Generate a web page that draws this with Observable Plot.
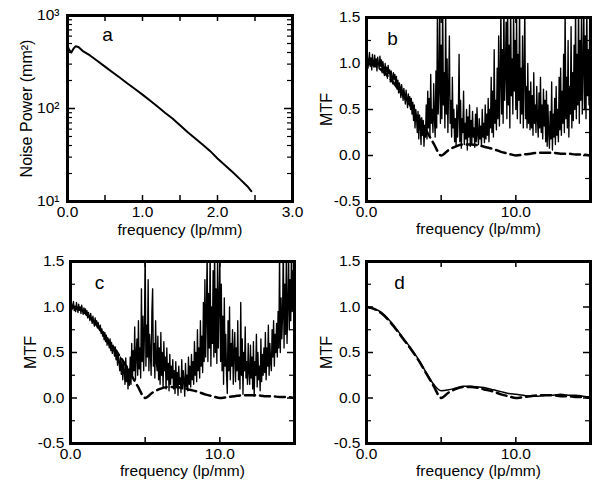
<!DOCTYPE html>
<html><head><meta charset="utf-8">
<script src="https://cdn.jsdelivr.net/npm/d3@7"></script>
<script src="https://cdn.jsdelivr.net/npm/@observablehq/plot@0.6"></script>
<style>
body{margin:0;background:#fff;width:592px;height:484px;overflow:hidden;font-family:"Liberation Sans",Arial,sans-serif;}
#root{position:relative;width:592px;height:484px;}
.panel{position:absolute;}
.panel svg{overflow:visible;max-width:none;font-family:"Liberation Sans",Arial,sans-serif;}
.panel svg text{font-family:"Liberation Sans",Arial,sans-serif;}
</style></head><body><div id="root"></div>
<script>
// ---------- Panel a: noise power spectrum ----------
const freqA = [0, 0.02, 0.05, 0.08, 0.11, 0.15, 0.2, 0.3, 0.4, 0.5, 0.6, 0.7, 0.8, 0.9, 1.0, 1.1, 1.2, 1.3, 1.4, 1.5, 1.6, 1.7, 1.8, 1.9, 2.0, 2.1, 2.2, 2.3, 2.4, 2.45];
const noisePowerA = [470, 430, 400, 440, 468, 455, 417, 372, 324, 282, 245, 214, 186, 162, 141, 122, 105, 90, 78, 66, 56, 48, 41, 35, 29, 24.5, 20.7, 17.4, 14.5, 12.9];
const yMajorA = [10, 100, 1000];
const yMinorA = [20, 30, 40, 50, 60, 70, 80, 90, 200, 300, 400, 500, 600, 700, 800, 900];
const xLabelsA = [0, 1, 2, 3];
const xTicksA = [0.5, 1, 1.5, 2, 2.5];

// ---------- Panels b, c: noisy measured MTF (sample spacing in lp/mm) ----------
const noisyStep = 0.05;
const mtfNoisyB = [
  1.00, 1.08, 0.95, 1.04, 1.12, 0.97, 1.06, 0.93, 1.10, 1.01, 0.96, 1.09, 0.98, 1.05, 0.92, 1.07, 1.00, 0.94, 1.08, 0.97,
  1.04, 0.90, 1.02, 0.95, 0.87, 1.00, 0.91, 0.96, 0.84, 0.98, 0.89, 0.93, 0.80, 0.92, 0.86, 0.78, 0.90, 0.83, 0.88, 0.76,
  0.86, 0.72, 0.82, 0.68, 0.79, 0.74, 0.63, 0.77, 0.70, 0.60, 0.73, 0.66, 0.56, 0.71, 0.62, 0.52, 0.67, 0.58, 0.64, 0.50,
  0.62, 0.45, 0.58, 0.38, 0.55, 0.30, 0.50, 0.42, 0.25, 0.48, 0.18, 0.44, 0.35, 0.12, 0.41, 0.22, 0.38, 0.10, 0.33, 0.20,
  0.55, 0.18, 0.70, 0.30, 0.62, 0.22, 0.88, 0.35, 0.50, 0.25, 0.78, 0.40, 0.20, 0.92, 0.30, 1.60, 0.45, 0.70, 1.65, 0.35,
  1.20, 0.40, 1.70, 0.55, 0.90, 0.30, 1.60, 0.45, 1.05, 0.25, 0.75, 1.30, 0.35, 0.60, 0.20, 0.85, 0.30, 0.50, 0.15, 0.40,
  0.10, 0.55, 0.20, 0.45, 1.10, 0.15, 0.60, 0.08, 0.40, 0.25, 0.70, 0.12, 0.35, 0.18, 0.50, 0.06, 0.42, 0.20, 0.55, 0.10,
  0.38, 0.12, 0.48, 0.20, 0.30, 0.09, 0.45, 0.15, 0.52, 0.22, 0.12, 0.40, 0.18, 0.32, 0.10, 0.50, 0.20, 0.35, 0.14, 0.55,
  0.18, 0.45, 0.22, 0.62, 0.15, 0.50, 0.30, 0.85, 0.25, 0.70, 0.20, 1.15, 0.35, 0.60, 0.28, 0.95, 0.40, 1.30, 0.32, 0.80,
  1.60, 0.45, 1.15, 0.35, 1.70, 0.60, 0.90, 1.45, 0.40, 1.65, 0.55, 1.20, 0.30, 1.70, 0.65, 1.05, 0.45, 1.60, 0.70, 1.25,
  0.50, 1.55, 0.40, 1.10, 0.60, 1.65, 0.35, 0.95, 0.45, 1.30, 0.30, 0.85, 1.60, 0.40, 0.75, 0.30, 1.00, 0.35, 0.70, 0.28,
  0.80, 0.30, 0.65, 0.22, 0.90, 0.35, 0.55, 0.25, 0.75, 0.40, 0.20, 0.68, 0.30, 0.85, 0.25, 0.55, 0.18, 0.72, 0.32, 0.60,
  0.15, 0.70, 0.10, 0.55, 0.25, 0.08, 0.48, 0.18, 0.80, 0.06, 0.45, 0.20, 0.62, 0.12, 0.75, 0.22, 0.50, 0.15, 0.85, 0.28,
  0.95, 0.22, 0.70, 0.35, 1.10, 0.25, 1.60, 0.40, 0.85, 0.30, 1.25, 0.20, 0.75, 0.45, 1.40, 0.30, 0.90, 0.38, 1.20, 0.50,
  1.65, 0.40, 1.10, 0.55, 1.70, 0.35, 1.25, 0.60, 1.60, 0.45, 0.95, 1.65, 0.50, 1.30, 0.40, 1.70, 0.65, 1.15, 0.55, 1.60,
  0.70
];
const mtfNoisyC = [
  1.00, 1.04, 0.97, 1.02, 1.06, 0.96, 1.01, 0.95, 1.05, 0.99, 0.94, 1.03, 0.97, 1.00, 0.93, 1.02, 0.96, 0.92, 0.99, 0.94,
  0.98, 0.91, 0.96, 0.88, 0.94, 0.90, 0.85, 0.93, 0.87, 0.82, 0.90, 0.84, 0.79, 0.88, 0.81, 0.85, 0.77, 0.83, 0.79, 0.74,
  0.80, 0.71, 0.76, 0.68, 0.73, 0.64, 0.72, 0.62, 0.69, 0.58, 0.66, 0.60, 0.55, 0.65, 0.52, 0.61, 0.49, 0.58, 0.53, 0.46,
  0.56, 0.42, 0.52, 0.36, 0.48, 0.40, 0.30, 0.45, 0.26, 0.40, 0.20, 0.38, 0.30, 0.15, 0.44, 0.18, 0.35, 0.10, 0.32, 0.14,
  0.45, 0.15, 0.60, 0.22, 0.52, 0.30, 0.78, 0.20, 0.48, 0.65, 0.25, 0.85, 0.32, 0.55, 0.22, 1.20, 0.40, 0.90, 0.30, 0.70,
  1.65, 0.35, 0.80, 0.45, 1.30, 0.30, 0.70, 0.50, 0.25, 0.95, 1.20, 0.35, 0.60, 0.22, 0.85, 0.40, 0.30, 0.68, 0.20, 0.55,
  0.15, 0.72, 0.25, 0.50, 0.12, 0.62, 0.30, 0.45, 0.10, 0.55, 0.20, 0.38, 0.08, 0.48, 0.15, 0.35, 0.22, 0.42, 0.10, 0.30,
  0.05, 0.40, 0.12, 0.28, 0.03, 0.35, 0.15, 0.22, 0.06, 0.42, 0.10, 0.30, 0.18, 0.02, 0.38, 0.12, 0.25, 0.08, 0.45, 0.15,
  0.35, 0.12, 0.48, 0.20, 0.40, 0.15, 0.62, 0.25, 0.50, 0.18, 0.75, 0.30, 0.55, 0.22, 0.85, 0.35, 0.68, 0.28, 1.05, 0.40,
  1.30, 0.45, 0.90, 1.60, 0.40, 1.15, 0.55, 1.65, 0.35, 1.00, 0.60, 1.40, 0.45, 1.70, 0.50, 1.20, 0.38, 1.60, 0.55, 1.05,
  1.55, 0.40, 1.25, 0.30, 0.90, 0.15, 1.10, 0.35, 0.70, 0.25, 0.05, 0.85, 0.30, 1.00, 0.20, 0.60, 0.35, 0.75, 0.15, 0.50,
  0.72, 0.18, 0.55, 0.30, 0.85, 0.20, 0.45, 0.10, 1.05, 0.25, 0.65, 0.04, 0.50, 0.30, 0.78, 0.22, 0.40, 0.15, 0.60, 0.28,
  0.15, 0.58, 0.22, 0.45, 0.10, 0.62, 0.02, 0.40, 0.25, 0.70, 0.12, 0.50, 0.20, 0.35, 0.08, 0.65, 0.18, 0.48, 0.25, 0.55,
  0.28, 0.72, 0.20, 0.55, 0.35, 0.80, 0.25, 0.60, 0.40, 0.30, 0.75, 0.45, 0.85, 0.35, 0.70, 0.50, 0.82, 0.45, 0.95, 0.55,
  1.60, 0.50, 1.10, 0.65, 0.90, 1.70, 0.55, 1.25, 0.70, 1.50, 0.60, 1.00, 1.65, 0.75, 1.30, 0.85, 1.70, 0.95, 1.40, 1.10,
  1.60
];

// ---------- Smooth curves (b, c, d) ----------
const freqSmooth = [0, 0.5, 1, 1.5, 2, 2.5, 3, 3.5, 4, 4.5, 5, 5.5, 6, 6.5, 7, 7.5, 8, 8.5, 9, 9.5, 10, 10.5, 11, 11.5, 12, 12.5, 13, 13.5, 14, 14.5, 15];
const mtfIdeal = [1.00, 0.98, 0.93, 0.85, 0.75, 0.64, 0.53, 0.41, 0.27, 0.13, 0.00, 0.06, 0.10, 0.12, 0.12, 0.11, 0.09, 0.07, 0.04, 0.02, 0.00, 0.01, 0.02, 0.03, 0.03, 0.03, 0.02, 0.02, 0.01, 0.01, 0.00];
const mtfMeasuredD = [1.00, 0.98, 0.94, 0.86, 0.76, 0.65, 0.54, 0.42, 0.28, 0.15, 0.08, 0.09, 0.11, 0.13, 0.13, 0.12, 0.11, 0.09, 0.07, 0.05, 0.04, 0.03, 0.02, 0.02, 0.03, 0.03, 0.04, 0.03, 0.03, 0.02, 0.01];

const yMajorMTF = [-0.5, 0, 0.5, 1, 1.5];
const yMinorMTF = [-0.25, 0.25, 0.75, 1.25];
const xLabelsMTF = [0, 10];
const xTicksMTF = [5, 10];

const FONT = "Liberation Sans, Arial, Helvetica, sans-serif";
const FS = 15.5;
const root = document.getElementById("root");

function ticksY(vals, len, plotW, sw) {
  return [
    Plot.tickY(vals, {y: d => d, insetRight: plotW - len, strokeWidth: sw}),
    Plot.tickY(vals, {y: d => d, insetLeft: plotW - len, strokeWidth: sw})
  ];
}
function ticksX(vals, len, plotH, sw) {
  return [
    Plot.tickX(vals, {x: d => d, insetTop: plotH - len, strokeWidth: sw}),
    Plot.tickX(vals, {x: d => d, insetBottom: plotH - len, strokeWidth: sw})
  ];
}
function place(svg, left, top) {
  const div = document.createElement("div");
  div.className = "panel";
  div.style.left = left + "px";
  div.style.top = top + "px";
  div.appendChild(svg);
  root.appendChild(div);
}
const centered = {textAnchor: "middle", lineAnchor: "middle", fill: "black"};

// ---- Panel a ----
{
  const W = 300, H = 240, mL = 67, mR = 8, mT = 15, mB = 39;
  const pw = W - mL - mR, ph = H - mT - mB;
  const sup = {1: "\u00B9", 2: "\u00B2", 3: "\u00B3"};
  const data = freqA.map((f, i) => ({f, p: noisePowerA[i]}));
  const svg = Plot.plot({
    width: W, height: H, marginLeft: mL, marginRight: mR, marginTop: mT, marginBottom: mB,
    style: {background: "transparent", fontFamily: FONT, fontSize: FS + "px", color: "black", overflow: "visible"},
    x: {domain: [0, 3], axis: null},
    y: {type: "log", domain: [10, 1000], axis: null},
    marks: [
      Plot.axisY(yMajorA, {anchor: "left", tickSize: 0, tickPadding: 8, tickFormat: d => "10" + sup[Math.round(Math.log10(d))], label: null, fontSize: FS, fill: "black"}),
      Plot.axisX(xLabelsA, {anchor: "bottom", tickSize: 0, tickPadding: 4, tickFormat: d => d.toFixed(1), label: null, fontSize: FS, fill: "black"}),
      ...ticksY(yMajorA, 8, pw, 1.5),
      ...ticksY(yMinorA, 5, pw, 1.2),
      ...ticksX(xTicksA, 6, ph, 1.5),
      Plot.line(data, {x: "f", y: "p", stroke: "black", strokeWidth: 2, clip: true}),
      Plot.frame({stroke: "black", strokeWidth: 3}),
      Plot.text(["a"], {frameAnchor: "top-left", dx: 40, dy: 19, fontSize: 19, ...centered}),
      Plot.text(["Noise Power (mm\u00B2)"], {frameAnchor: "left", dx: -41, rotate: -90, fontSize: 16, ...centered}),
      Plot.text(["frequency (lp/mm)"], {frameAnchor: "bottom", dy: 29, fontSize: FS, ...centered})
    ]
  });
  place(svg, 0, 0);
}

function mtfPanel(letter, noisy, left, top, H, mT, mB, smoothSolid, ldx, ldy) {
  const W = 296, mL = 70, mR = 2;
  const pw = W - mL - mR, ph = H - mT - mB;
  const ideal = freqSmooth.map((f, i) => ({f, m: mtfIdeal[i]}));
  const marks = [
    Plot.axisY(yMajorMTF, {anchor: "left", tickSize: 0, tickPadding: 6, tickFormat: d => d.toFixed(1), label: null, fontSize: FS, fill: "black"}),
    Plot.axisX(xLabelsMTF, {anchor: "bottom", tickSize: 0, tickPadding: 4, tickFormat: d => d.toFixed(1), label: null, fontSize: FS, fill: "black"}),
    ...ticksY(yMajorMTF.slice(1, -1), 7, pw, 1.5),
    ...ticksY(yMinorMTF, 5, pw, 1.2),
    ...ticksX(xTicksMTF, 6, ph, 1.5)
  ];
  if (noisy) {
    const nd = noisy.map((m, i) => ({f: i * noisyStep, m}));
    marks.push(Plot.line(nd, {x: "f", y: "m", stroke: "black", strokeWidth: 1.35, clip: true}));
  }
  if (smoothSolid) {
    const sd = freqSmooth.map((f, i) => ({f, m: smoothSolid[i]}));
    marks.push(Plot.line(sd, {x: "f", y: "m", stroke: "black", strokeWidth: 1.5, curve: "monotone-x", clip: true}));
  }
  marks.push(Plot.line(ideal, {x: "f", y: "m", stroke: "black", strokeWidth: 2.5, strokeDasharray: "10,5", curve: "monotone-x", clip: true}));
  marks.push(Plot.frame({stroke: "black", strokeWidth: 3}));
  marks.push(Plot.text([letter], {frameAnchor: "top-left", dx: ldx, dy: ldy, fontSize: 19, ...centered}));
  marks.push(Plot.text(["MTF"], {frameAnchor: "left", dx: -40, rotate: -90, fontSize: 16, ...centered}));
  marks.push(Plot.text(["frequency (lp/mm)"], {frameAnchor: "bottom", dy: 27.5, fontSize: FS, ...centered}));
  const svg = Plot.plot({
    width: W, height: H, marginLeft: mL, marginRight: mR, marginTop: mT, marginBottom: mB,
    style: {background: "transparent", fontFamily: FONT, fontSize: FS + "px", color: "black", overflow: "visible"},
    x: {domain: [0, 15], axis: null},
    y: {domain: [-0.5, 1.5], axis: null},
    marks
  });
  place(svg, left, top);
}

mtfPanel("b", mtfNoisyB, 296, 0, 240, 17, 39, null, 26, 21);
mtfPanel("c", mtfNoisyC, 0, 240, 244, 21, 41, null, 29, 21);
mtfPanel("d", null, 296, 240, 244, 21, 41, mtfMeasuredD, 33, 21);
</script></body></html>
